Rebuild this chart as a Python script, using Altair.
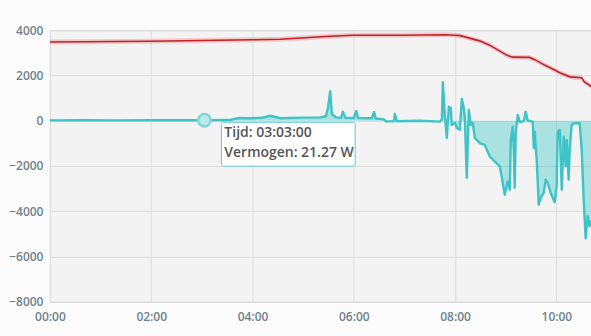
import altair as alt
import pandas as pd

# Teal series: power (W)
teal_times = ["00:00", "00:40", "01:20", "02:00", "02:40", "03:03", "03:33:30", "03:39:30", "03:45",
              "03:57", "04:11", "04:21", "04:33", "04:56", "05:20", "05:27", "05:29:30", "05:32", "05:34",
              "05:39", "05:45", "05:47", "05:50", "06:00", "06:03", "06:05", "06:21:30", "06:24", "06:26",
              "06:36", "06:38", "06:47:30", "06:48:40", "06:51", "07:18", "07:42", "07:44:20", "07:45:30",
              "07:47:50", "07:50:10", "07:52:35", "07:55", "07:56", "08:00", "08:02", "08:05:35", "08:08",
              "08:10:20", "08:11:30", "08:13:50", "08:16:15", "08:18:35", "08:21", "08:23:20", "08:29:15",
              "08:35:10", "08:41:05", "08:47", "08:53", "08:55:20", "08:58:50", "09:02:25", "09:04:45",
              "09:06", "09:08:20", "09:09:30", "09:10:40", "09:11:50", "09:14:15", "09:16:35", "09:21:20",
              "09:23:40", "09:26", "09:32", "09:33:10", "09:34:20", "09:36:40", "09:39:05", "09:41:25",
              "09:45", "09:47:20", "09:49:45", "09:53:15", "09:58", "10:00:20", "10:01:35", "10:04",
              "10:06:20", "10:08:40", "10:11", "10:12:10", "10:14:35", "10:15:45", "10:18:05", "10:20:30",
              "10:27:35", "10:30", "10:32:20", "10:34:40", "10:37:05", "10:39:25", "10:41:50"]
teal_vals = [15, 25, 18, 22, 20, 21.27, 30, 90, 120,
             110, 130, 220, 110, 140, 150, 200, 600, 1310, 300,
             150, 130, 400, 130, 120, 430, 120, 110, 390, 100,
             60, -30, -20, 300, -20, 0, -40, 50, 1700,
             255, -760, 620, 560, -190, -100, -320, -400, 960,
             560, 150, -2520, 475, -190, -100, -760, -990,
             -1070, -1580, -1800, -2020, -2500, -3270, -2680, -3050,
             -850, -260, -1290, -2960, -540, 255, -60, -20,
             400, 0, -40, -1210, -480, -1730, -3710, -3410,
             -3190, -2610, -2750, -3190, -3600, -2900, -480, -400,
             -3050, -700, -2020, -850, -2610, -1290, -190, -110,
             -110, -1290, -3500, -5200, -4220, -4660, -4400]

# Red series
red_times = ["00:00", "01:59", "04:00", "04:33", "05:32", "05:59", "06:55", "07:47", "08:00", "08:06",
             "08:29", "08:41", "08:53", "09:01", "09:08", "09:28", "09:34", "09:46", "09:58", "10:04",
             "10:16", "10:30", "10:33", "10:42"]
red_vals = [3480, 3515, 3580, 3600, 3735, 3780, 3780, 3800, 3780, 3760,
            3530, 3340, 3075, 2900, 2810, 2800, 2710, 2460, 2240, 2120,
            1940, 1900, 1720, 1500]

y_ticks = [-8000, -6000, -4000, -2000, 0, 2000, 4000]
x_tick_hours = [0, 2, 4, 6, 8, 10]

hover_time = "03:03"
hover_val = 21.27
hover_lines = ["Tijd: 03:03:00", "Vermogen: 21.27 W"]


def ts(t):
    if t.count(":") == 1:
        t = t + ":00"
    return "2024-01-01T" + t + "Z"


def dt(h, m=0):
    return alt.DateTime(year=2024, month=1, date=1, hours=h, minutes=m, utc=True)


teal = pd.DataFrame({"t": [ts(t) for t in teal_times], "v": teal_vals})
red = pd.DataFrame({"t": [ts(t) for t in red_times], "v": red_vals})
red["lo"] = red["v"] - 110
red["hi"] = red["v"] + 110
hover = pd.DataFrame({"t": [ts(hover_time)], "v": [hover_val],
                      "l1": [hover_lines[0]], "l2": [hover_lines[1]]})

label_color = "#6e828e"
xscale = alt.Scale(type="utc", domain=[dt(0), dt(10, 41)])
yscale = alt.Scale(domain=[-8000, 4000])

xaxis = alt.Axis(values=[dt(h) for h in x_tick_hours], format="%H:%M", title=None,
                 grid=True, gridColor="#dddddd", domain=False, ticks=False, labelFlush=False,
                 labelBound=False, labelOverlap=False,
                 labelPadding=10, labelFontSize=12, labelColor=label_color,
                 labelFont="Open Sans", labelFontWeight=600)
yaxis = alt.Axis(values=y_ticks, format="d", title=None, grid=True, gridColor="#dddddd", domain=False,
                 ticks=False, labelPadding=7, labelFontSize=12, labelColor=label_color,
                 labelFlush=False, labelOverlap=False,
                 labelFont="Open Sans", labelFontWeight=600)

X = alt.X("t:T", scale=xscale, axis=xaxis)
Xn = alt.X("t:T", scale=xscale)

band = alt.Chart(red).mark_area(color="#f2a6a6", opacity=0.55, clip=True).encode(
    x=X, y=alt.Y("lo:Q", scale=yscale, axis=yaxis), y2="hi:Q")
red_line = alt.Chart(red).mark_line(color="#c0212b", strokeWidth=1.6, clip=True).encode(
    x=Xn, y=alt.Y("v:Q", scale=yscale))

teal_area = alt.Chart(teal).mark_area(color="#45c8c8", opacity=0.42, clip=True).encode(
    x=Xn, y=alt.Y("v:Q", scale=yscale), y2=alt.datum(0))
teal_line = alt.Chart(teal).mark_line(color="#3ec3c6", strokeWidth=2.4, clip=True,
                                      strokeJoin="round").encode(
    x=Xn, y=alt.Y("v:Q", scale=yscale))

dot = alt.Chart(hover).mark_point(shape="circle", size=160, filled=True, fill="#b8ebeb",
                                  stroke="#7fd8d8", strokeWidth=2.5, opacity=1).encode(
    x=Xn, y=alt.Y("v:Q", scale=yscale))
box = alt.Chart(hover).mark_rect(fill="white", stroke="#5fcaca", strokeWidth=1,
                                 xOffset=17, x2Offset=151, yOffset=2, y2Offset=46,
                                 cornerRadius=2).encode(
    x=Xn, x2="t:T", y=alt.Y("v:Q", scale=yscale), y2="v:Q")
txt1 = alt.Chart(hover).mark_text(align="left", baseline="middle", dx=20, dy=13, fontSize=14,
                                  font="Open Sans", color="#555555", fontWeight=600).encode(
    x=Xn, y=alt.Y("v:Q", scale=yscale), text="l1:N")
txt2 = alt.Chart(hover).mark_text(align="left", baseline="middle", dx=20, dy=33, fontSize=14,
                                  font="Open Sans", color="#555555", fontWeight=600).encode(
    x=Xn, y=alt.Y("v:Q", scale=yscale), text="l2:N")

chart = alt.layer(band, red_line, teal_area, teal_line, dot, box, txt1, txt2).properties(
    width=542, height=272,
    autosize=alt.AutoSizeParams(type="none"),
    padding={"left": 50, "top": 30, "right": 0, "bottom": 34},
    background="#fbfbfb",
).configure_view(fill="#f3f3f3", stroke="#d6d6d6")

chart.save("out.html", embed_options={"renderer": "svg", "actions": False})
